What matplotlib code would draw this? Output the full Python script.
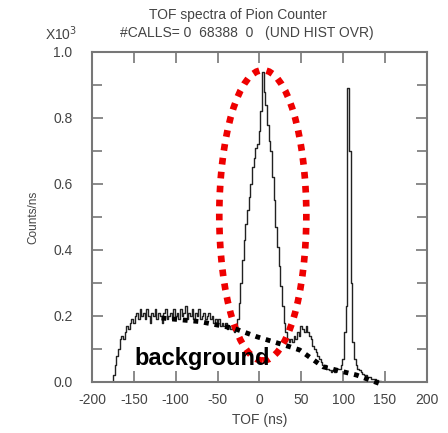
#!/usr/bin/env python3
import matplotlib
matplotlib.use("Agg")
import matplotlib.pyplot as plt
from matplotlib.patches import Ellipse
import numpy as np

# TOF histogram, 2 ns bins starting at -176 ns (values in units of 10^3 counts/ns)
tof_start = -176
bin_width = 2
counts = [
    # rising edge -176 .. -146
    0.00, 0.02, 0.05, 0.08, 0.10, 0.13, 0.14, 0.13, 0.15, 0.17, 0.16, 0.18, 0.19, 0.18, 0.20, 0.21,
    # flat background -144 .. -60
    0.19, 0.22, 0.20, 0.21, 0.19, 0.22, 0.20, 0.18, 0.21, 0.20, 0.22, 0.19, 0.21, 0.20, 0.18,
    0.21, 0.22, 0.19, 0.20, 0.21, 0.19, 0.22, 0.20, 0.21, 0.19, 0.22, 0.20, 0.21, 0.23, 0.19,
    0.21, 0.20, 0.22, 0.19, 0.21, 0.20, 0.22, 0.19, 0.20, 0.21, 0.19, 0.20, 0.21,
    # falling background -58 .. -28
    0.19, 0.20, 0.18, 0.19, 0.18, 0.19, 0.17, 0.18, 0.17, 0.18, 0.16, 0.17, 0.16, 0.17, 0.15, 0.16,
    # main pion peak -26 .. 34
    0.19, 0.24, 0.30, 0.37, 0.43, 0.48, 0.52, 0.56, 0.60, 0.65, 0.68, 0.71, 0.72, 0.76, 0.82,
    0.94, 0.88, 0.84, 0.78, 0.73, 0.70, 0.62, 0.55, 0.47, 0.41, 0.35, 0.29, 0.23, 0.18, 0.15, 0.13,
    # shoulder 36 .. 100
    0.12, 0.13, 0.12, 0.14, 0.13, 0.15, 0.14, 0.17, 0.16, 0.15, 0.17, 0.15, 0.14, 0.13, 0.11,
    0.10, 0.09, 0.08, 0.07, 0.06, 0.05, 0.05, 0.04, 0.04, 0.035, 0.03, 0.035, 0.03, 0.04, 0.04,
    0.04, 0.05, 0.07,
    # narrow peak 102 .. 112
    0.15, 0.23, 0.89, 0.70, 0.30, 0.12,
    # tail 114 .. 150
    0.07, 0.05, 0.04, 0.035, 0.03, 0.025, 0.02, 0.02, 0.015, 0.015, 0.01, 0.01, 0.008, 0.005,
    0.004, 0.002, 0.0, 0.0, 0.0,
]

# hand drawn background estimate (black dots)
bg_tof = [-117, -71, -31, -3, 36, 48, 76, 116, 147]
bg_val = [0.194, 0.183, 0.163, 0.137, 0.107, 0.097, 0.046, 0.021, -0.008]

xticks = [-200, -150, -100, -50, 0, 50, 100, 150, 200]
yticks = [0.0, 0.2, 0.4, 0.6, 0.8, 1.0]

plt.rcParams['font.family'] = ['Liberation Sans', 'DejaVu Sans']
txt = '#444444'
frame = '#777777'

fig = plt.figure(figsize=(4.48, 4.33), dpi=100)
ax = fig.add_axes([0.2054, 0.1178, 0.7475, 0.7622])

tof = tof_start + bin_width * np.arange(len(counts))
ax.step(tof, counts, where='mid', color='#222222', lw=1.0)

ell = Ellipse((4, 0.505), 104, 0.88, fill=False, edgecolor='#ee0000', lw=4.8,
              linestyle=(0, (1, 1.1)), zorder=5)
ax.add_patch(ell)

ax.plot(bg_tof, bg_val, color='black', lw=3.5, linestyle=(0, (1, 1.2)),
        solid_capstyle='butt', dash_capstyle='butt', zorder=6, clip_on=False)
ax.text(-149, 0.05, 'background', fontsize=17, fontweight='bold', color='black', zorder=7)

ax.set_xlim(-200, 200)
ax.set_ylim(0, 1.0)
ax.set_xticks(xticks)
ax.set_xticklabels([str(v) for v in xticks])
ax.set_yticks(yticks)
ax.set_yticklabels(['%.1f' % v for v in yticks])
ax.set_yticks(np.arange(0, 1.01, 0.1), minor=True)
ax.tick_params(which='both', direction='in', top=True, right=True, color=frame, width=1.2)
ax.tick_params(which='major', length=8, labelsize=10, labelcolor=txt)
ax.tick_params(which='minor', length=7)
ax.tick_params(axis='y', pad=14)
ax.tick_params(axis='x', pad=8)
for s in ax.spines.values():
    s.set_color(frame)
    s.set_linewidth(1.5)

ax.set_xlabel('TOF (ns)', fontsize=10, color=txt, labelpad=4)
ax.set_ylabel('Counts/ns', fontsize=8.5, color=txt, labelpad=10)

fig.text(0.53, 0.965, 'TOF spectra of Pion Counter', ha='center', va='center',
         fontsize=10, color=txt)
fig.text(0.55, 0.923, '#CALLS= 0  68388  0   (UND HIST OVR)', ha='center', va='center',
         fontsize=10, color=txt)
fig.text(0.10, 0.923, r'X10$^3$', ha='left', va='center', fontsize=10, color=txt)

fig.savefig('out.png', dpi=100)
